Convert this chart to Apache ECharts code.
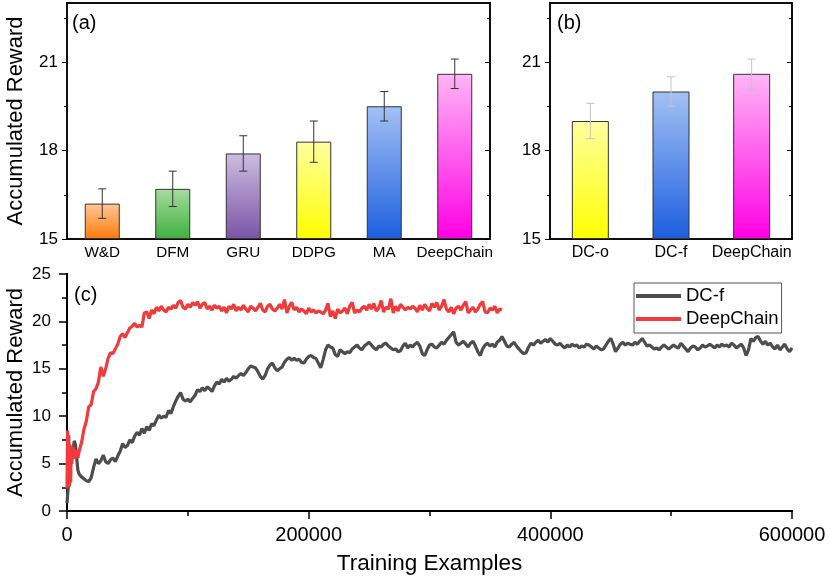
<!DOCTYPE html>
<html><head><meta charset="utf-8">
<script src="https://cdn.jsdelivr.net/npm/echarts@6/dist/echarts.min.js"></script>
<style>html,body{margin:0;padding:0;background:#fff}#c{width:830px;height:580px}</style>
</head><body><div id="c"></div>
<script>
// ---------- data ----------
const catsA = ['W&D', 'DFM', 'GRU', 'DDPG', 'MA', 'DeepChain'];
const valsA = [16.2, 16.7, 17.9, 18.3, 19.5, 20.6];
const errsA = [0.5, 0.6, 0.6, 0.7, 0.5, 0.5];
const catsB = ['DC-o', 'DC-f', 'DeepChain'];
const valsB = [19.0, 20.0, 20.6];
const errsB = [0.6, 0.5, 0.5];
const barTicks = [15, 18, 21];
const barMinorTicks = [16.5, 19.5, 22.5];
const lineYTicks = [0, 5, 10, 15, 20, 25];
const lineXTicks = [0, 200000, 400000, 600000];
// training curves: [training examples (thousands), accumulated reward]
const dcf = [[0,0.8],[1,2.5],[2,4.6],[3,6.0],[4,6.8],[5,6.4],[6,7.4],[7,7.0],[8,5.6],[9,4.3],[10,3.9],[12,3.6],[14,3.4],[16,3.2],[18,3.1],[20,3.5],[22,4.6],[24,5.5],[26,5.0],[28,5.3],[30,5.9],[32,5.2],[34,5.0],[36,5.4],[38,5.6],[40,5.2],[42,5.8],[44,6.3],[46,7.1],[48,6.7],[50,6.9],[52,7.5],[54,7.2],[56,7.9],[58,8.3],[60,8.0],[62,8.7],[64,8.2],[66,8.9],[68,8.5],[70,9.2],[72,9.0],[74,9.6],[76,10.1],[78,9.8],[80,10.0],[82,9.9],[84,10.6],[86,10.3],[88,11.0],[90,11.6],[92,12.1],[94,12.5],[96,11.8],[98,11.6],[100,11.8],[102,11.5],[104,11.9],[106,12.2],[108,12.8],[110,12.6],[112,13.0],[114,12.7],[116,13.1],[118,12.9],[120,12.6],[122,13.2],[124,13.6],[126,13.4],[128,13.9],[130,13.6],[132,14.0],[134,13.7],[136,13.9],[138,14.2],[140,14.0],[142,14.3],[144,14.5],[146,14.3],[148,14.6],[150,15.0],[152,15.3],[154,15.2],[156,15.1],[158,14.7],[160,14.2],[162,13.9],[164,14.3],[166,15.0],[168,15.4],[170,15.6],[172,15.1],[174,14.8],[176,15.0],[178,15.2],[180,15.7],[182,16.0],[184,16.2],[186,15.9],[188,16.1],[190,15.9],[192,16.0],[194,15.7],[196,15.6],[198,16.0],[200,16.3],[202,16.4],[204,16.2],[206,16.1],[208,15.6],[210,15.1],[212,16.0],[214,17.0],[216,17.5],[218,17.3],[220,17.2],[222,16.5],[224,16.3],[226,17.0],[228,16.8],[230,16.6],[232,16.8],[234,16.7],[236,17.1],[238,17.3],[240,17.5],[242,17.2],[244,17.0],[246,17.4],[248,17.6],[250,17.8],[252,17.5],[254,17.2],[256,17.0],[258,17.4],[260,17.3],[262,17.6],[264,17.7],[266,17.4],[268,17.2],[270,17.0],[272,17.1],[274,16.8],[276,16.9],[278,17.4],[280,17.7],[282,17.2],[284,17.5],[286,17.3],[288,17.6],[290,17.8],[292,17.4],[294,16.6],[296,16.4],[298,17.0],[300,17.5],[302,17.6],[304,17.3],[306,17.2],[308,17.5],[310,17.8],[312,17.6],[314,18.0],[316,18.3],[318,18.6],[320,18.9],[322,17.8],[324,17.5],[326,17.7],[328,17.9],[330,17.6],[332,17.3],[334,17.7],[336,17.9],[338,17.4],[340,16.8],[342,16.4],[344,17.1],[346,17.5],[348,17.7],[350,17.4],[352,17.6],[354,17.3],[356,17.8],[358,18.0],[360,18.4],[362,17.9],[364,17.4],[366,17.3],[368,17.6],[370,17.8],[372,17.4],[374,17.1],[376,16.8],[378,16.6],[380,16.7],[382,17.3],[384,17.7],[386,17.5],[388,17.8],[390,18.0],[392,17.7],[394,17.9],[396,18.1],[398,17.8],[400,18.2],[402,17.9],[404,17.6],[406,17.5],[408,17.7],[410,17.4],[412,17.2],[414,17.5],[416,17.3],[418,17.6],[420,17.4],[422,17.5],[424,17.2],[426,17.4],[428,17.3],[430,17.6],[432,17.5],[434,17.3],[436,17.1],[438,17.4],[440,17.2],[442,17.0],[444,17.1],[446,17.5],[448,17.9],[450,18.2],[452,17.6],[454,16.8],[456,17.2],[458,17.6],[460,17.8],[462,17.5],[464,17.7],[466,17.6],[468,17.5],[470,17.8],[472,17.6],[474,17.9],[476,18.2],[478,17.8],[480,17.4],[482,17.5],[484,17.3],[486,17.1],[488,17.2],[490,17.0],[492,17.3],[494,17.5],[496,17.3],[498,17.1],[500,17.3],[502,17.5],[504,17.3],[506,17.2],[508,17.7],[510,17.4],[512,17.1],[514,16.8],[516,17.2],[518,17.4],[520,17.3],[522,17.0],[524,17.2],[526,17.5],[528,17.3],[530,17.4],[532,17.6],[534,17.4],[536,17.2],[538,17.5],[540,17.3],[542,17.6],[544,17.4],[546,17.5],[548,17.3],[550,17.7],[552,17.5],[554,17.2],[556,17.4],[558,17.6],[560,17.2],[562,16.4],[564,17.0],[566,18.2],[568,17.9],[570,18.3],[572,18.4],[574,17.9],[576,17.6],[578,17.9],[580,17.5],[582,17.7],[584,17.3],[586,17.1],[588,17.5],[590,17.0],[592,17.3],[594,17.6],[596,17.1],[598,16.8],[600,17.2]];
const deepChain = [[0,2.4],[0.5,8.5],[1,3.0],[1.5,8.0],[2,2.6],[2.5,7.0],[3,3.0],[3.5,6.5],[4,5.0],[5,6.8],[6,5.5],[7,6.4],[8,6.0],[9,5.6],[10,6.3],[12,7.2],[14,8.6],[16,9.5],[18,11.0],[20,11.2],[22,12.6],[24,12.9],[26,13.6],[28,15.2],[30,14.2],[32,15.0],[34,16.1],[36,16.7],[38,16.6],[40,17.1],[42,17.6],[44,18.4],[46,18.7],[48,18.3],[50,18.8],[52,19.3],[54,19.5],[56,19.8],[58,19.4],[60,19.6],[62,19.4],[64,20.9],[66,21.0],[68,20.3],[70,21.2],[72,20.8],[74,21.5],[76,21.1],[78,21.6],[80,21.2],[82,21.0],[84,21.5],[86,21.3],[88,21.7],[90,21.4],[92,22.0],[94,22.2],[96,21.5],[98,21.3],[100,21.8],[102,21.5],[104,22.0],[106,21.7],[108,22.1],[110,21.4],[112,21.8],[114,22.0],[116,21.3],[118,21.6],[120,21.2],[122,21.7],[124,21.4],[126,21.6],[128,21.1],[130,21.5],[132,20.9],[134,21.6],[136,21.3],[138,21.8],[140,21.1],[142,21.5],[144,21.2],[146,21.7],[148,21.3],[150,21.0],[152,21.6],[154,21.4],[156,21.1],[158,21.5],[160,21.9],[162,21.2],[164,21.0],[166,21.6],[168,21.8],[170,21.3],[172,21.1],[174,21.4],[176,21.8],[178,21.3],[180,22.3],[182,20.9],[184,21.6],[186,22.0],[188,21.2],[190,21.5],[192,21.0],[194,21.3],[196,21.1],[198,20.8],[200,21.4],[202,21.0],[204,21.2],[206,20.9],[208,21.1],[210,21.0],[212,20.8],[214,21.2],[216,21.9],[218,20.5],[220,21.1],[222,20.3],[224,21.3],[226,20.9],[228,21.1],[230,21.4],[232,20.8],[234,21.6],[236,22.0],[238,20.9],[240,21.2],[242,21.0],[244,21.4],[246,21.6],[248,21.2],[250,21.8],[252,21.3],[254,21.9],[256,21.1],[258,21.4],[260,22.2],[262,21.0],[264,21.5],[266,21.3],[268,22.4],[270,20.9],[272,21.6],[274,21.1],[276,21.8],[278,21.5],[280,21.2],[282,21.5],[284,21.3],[286,21.6],[288,21.4],[290,21.0],[292,21.7],[294,21.2],[296,21.8],[298,21.4],[300,21.1],[302,21.9],[304,21.5],[306,22.0],[308,21.2],[310,21.6],[312,22.3],[314,21.3],[316,21.0],[318,21.5],[320,20.8],[322,21.4],[324,21.6],[326,21.2],[328,21.7],[330,22.1],[332,20.9],[334,21.2],[336,21.5],[338,21.0],[340,21.3],[342,21.8],[344,22.1],[346,21.0],[348,20.9],[350,21.4],[352,21.2],[354,21.6],[356,20.9],[358,21.3],[360,21.2]];

// ---------- styles ----------
const FONT = 'Liberation Sans, Arial, sans-serif';
const gradA = [['#ffc898','#ff7a0a'],['#a6dc9e','#3fb03f'],['#cdbde0','#7a54a6'],['#ffffa0','#ffff00'],['#a3c1f4','#1c5ee0'],['#ffb6f6','#ff00e4']];
const gradB = [['#ffffa0','#ffff00'],['#a3c1f4','#1c5ee0'],['#ffb6f6','#ff00e4']];

function grad(c) {
  return {type:'linear', x:0, y:0, x2:0, y2:1, colorStops:[{offset:0,color:c[0]},{offset:1,color:c[1]}]};
}
const AX = {lineStyle:{color:'#000', width:1.5}};
function catAxes(grid, cats, labelSize) {
  const base = {type:'category', gridIndex:grid, data:cats, boundaryGap:true, axisLine:AX, splitLine:{show:false}};
  return [
    Object.assign({}, base, {position:'bottom', axisTick:{alignWithLabel:true, length:5, lineStyle:{color:'#000'}},
      axisLabel:{fontSize:labelSize, color:'#000', fontFamily:FONT, margin:6, interval:0}}),
    Object.assign({}, base, {position:'bottom', axisTick:{length:3, lineStyle:{color:'#000'}}, axisLabel:{show:false}}),
    Object.assign({}, base, {position:'top', axisTick:{alignWithLabel:true, inside:true, length:5, lineStyle:{color:'#000'}}, axisLabel:{show:false}}),
    Object.assign({}, base, {position:'top', axisTick:{inside:true, length:3, lineStyle:{color:'#000'}}, axisLabel:{show:false}})
  ];
}
function valAxes(grid, withName) {
  const base = {type:'value', gridIndex:grid, min:15, max:23, interval:3, startValue:15, axisLine:{show:true, lineStyle:{color:'#000', width:1.5}}, splitLine:{show:false}};
  const major = Object.assign({}, base, {position:'left',
    axisTick:{show:true, length:5, lineStyle:{color:'#000'}, customValues:barTicks},
    axisLabel:{fontSize:17, color:'#000', fontFamily:FONT, margin:9, customValues:barTicks}});
  if (withName) Object.assign(major, {name:'Accumulated Reward', nameLocation:'middle', nameGap:40, nameMoveOverlap:false,
    nameTextStyle:{fontSize:22, color:'#000', fontFamily:FONT}});
  return [
    major,
    Object.assign({}, base, {position:'left', axisTick:{show:true, length:3, lineStyle:{color:'#000'}, customValues:barMinorTicks}, axisLabel:{show:false}}),
    Object.assign({}, base, {position:'right', axisTick:{show:true, inside:true, length:5, lineStyle:{color:'#000'}, customValues:barTicks}, axisLabel:{show:false}}),
    Object.assign({}, base, {position:'right', axisTick:{show:true, inside:true, length:3, lineStyle:{color:'#000'}, customValues:barMinorTicks}, axisLabel:{show:false}})
  ];
}
function errSeries(xi, yi, vals, errs, color) {
  return {
    type:'custom', xAxisIndex:xi, yAxisIndex:yi, z:5,
    data: vals.map((v, i) => [i, v - errs[i], v + errs[i]]),
    encode:{x:0, y:[1,2]},
    renderItem: function (params, api) {
      const i = api.value(0);
      const lo = api.coord([i, api.value(1)]);
      const hi = api.coord([i, api.value(2)]);
      const w = 4;
      const st = {stroke:color, lineWidth:1};
      return {type:'group', children:[
        {type:'line', shape:{x1:lo[0], y1:lo[1], x2:hi[0], y2:hi[1]}, style:st},
        {type:'line', shape:{x1:lo[0]-w, y1:lo[1], x2:lo[0]+w, y2:lo[1]}, style:st},
        {type:'line', shape:{x1:hi[0]-w, y1:hi[1], x2:hi[0]+w, y2:hi[1]}, style:st}
      ]};
    }
  };
}

const xAxes = [].concat(catAxes(0, catsA, 15.3), catAxes(1, catsB, 16));
const yAxes = [].concat(valAxes(0, true), valAxes(1, false));
const AXC = {lineStyle:{color:'#000', width:2}};
xAxes.push({type:'value', gridIndex:2, position:'bottom', min:0, max:600000, interval:200000, axisLine:AXC, splitLine:{show:false},
  axisTick:{length:7, lineStyle:{color:'#000', width:1.5}}, minorTick:{show:true, splitNumber:2, length:4, lineStyle:{color:'#000', width:1.5}},
  axisLabel:{fontSize:20, color:'#000', fontFamily:FONT, margin:14, customValues:lineXTicks, formatter: v => String(v)},
  name:'Training Examples', nameLocation:'middle', nameGap:41, nameMoveOverlap:false, nameTextStyle:{fontSize:22.5, color:'#000', fontFamily:FONT}});
xAxes.push({type:'value', gridIndex:2, position:'top', min:0, max:600000, interval:200000, axisLine:AXC, splitLine:{show:false},
  axisTick:{inside:true, length:8, lineStyle:{color:'#000', width:1.5}}, minorTick:{show:true, splitNumber:2, length:5, lineStyle:{color:'#000', width:1.5}},
  axisLabel:{show:false}});
yAxes.push({type:'value', gridIndex:2, position:'left', min:0, max:25, interval:5, axisLine:{show:true, lineStyle:{color:'#000', width:2}}, splitLine:{show:false},
  axisTick:{show:true, length:8, lineStyle:{color:'#000', width:1.5}}, minorTick:{show:true, splitNumber:2, length:5, lineStyle:{color:'#000', width:1.5}},
  axisLabel:{fontSize:17, color:'#000', fontFamily:FONT, margin:16, customValues:lineYTicks},
  name:'Accumulated Reward', nameLocation:'middle', nameGap:40, nameMoveOverlap:false, nameTextStyle:{fontSize:22, color:'#000', fontFamily:FONT}});
yAxes.push({type:'value', gridIndex:2, position:'right', min:0, max:25, interval:5, axisLine:{show:true, lineStyle:{color:'#000', width:2}}, splitLine:{show:false},
  axisTick:{show:true, inside:true, length:8, lineStyle:{color:'#000', width:1.5}}, minorTick:{show:true, splitNumber:2, length:5, lineStyle:{color:'#000', width:1.5}},
  axisLabel:{show:false}});

const option = {
  backgroundColor:'#fff',
  animation:false,
  textStyle:{fontFamily:FONT},
  title:[
    {text:'(a)', left:72, top:13, textStyle:{fontSize:20, fontWeight:'normal', color:'#000', fontFamily:FONT}, padding:0},
    {text:'(b)', left:557, top:13, textStyle:{fontSize:20, fontWeight:'normal', color:'#000', fontFamily:FONT}, padding:0},
    {text:'(c)', left:74, top:285, textStyle:{fontSize:20, fontWeight:'normal', color:'#000', fontFamily:FONT}, padding:0}
  ],
  grid:[
    {left:67, top:3, width:423, height:236, containLabel:false, outerBoundsMode:'none'},
    {left:550, top:3, width:242, height:236, containLabel:false, outerBoundsMode:'none'},
    {left:67, top:274, width:725, height:237, containLabel:false, outerBoundsMode:'none'}
  ],
  legend:{
    orient:'vertical', left:634, top:283, padding:[3,3,4,2], itemGap:3, itemWidth:45, itemHeight:4, icon:'rect',
    borderColor:'#555', borderWidth:1, backgroundColor:'#fff',
    textStyle:{fontSize:18.5, lineHeight:20, color:'#000', fontFamily:FONT},
    data:['DC-f','DeepChain']
  },
  xAxis:xAxes,
  yAxis:yAxes,
  series:[
    {type:'bar', xAxisIndex:0, yAxisIndex:0, barWidth:35, z:3,
      data: valsA.map((v, i) => ({value:v, itemStyle:{color:grad(gradA[i]), borderColor:'#333', borderWidth:1}}))},
    errSeries(0, 0, valsA, errsA, '#333'),
    {type:'bar', xAxisIndex:4, yAxisIndex:4, barWidth:37, z:3,
      data: valsB.map((v, i) => ({value:v, itemStyle:{color:grad(gradB[i]), borderColor:'#333', borderWidth:1}}))},
    errSeries(4, 4, valsB, errsB, '#c4c4c4'),
    {type:'line', name:'DC-f', xAxisIndex:8, yAxisIndex:8, showSymbol:false, symbol:'none', color:'#4d4d4d',
      lineStyle:{width:3.2, color:'#4d4d4d'}, data: dcf.map(p => [p[0]*1000, p[1]])},
    {type:'line', name:'DeepChain', xAxisIndex:8, yAxisIndex:8, showSymbol:false, symbol:'none', color:'#ef3b3b',
      lineStyle:{width:3.2, color:'#ef3b3b'}, data: deepChain.map(p => [p[0]*1000, p[1]])}
  ]
};
const chart = echarts.init(document.getElementById('c'), null, {renderer:'canvas'});
chart.setOption(option);
</script>
</body></html>
